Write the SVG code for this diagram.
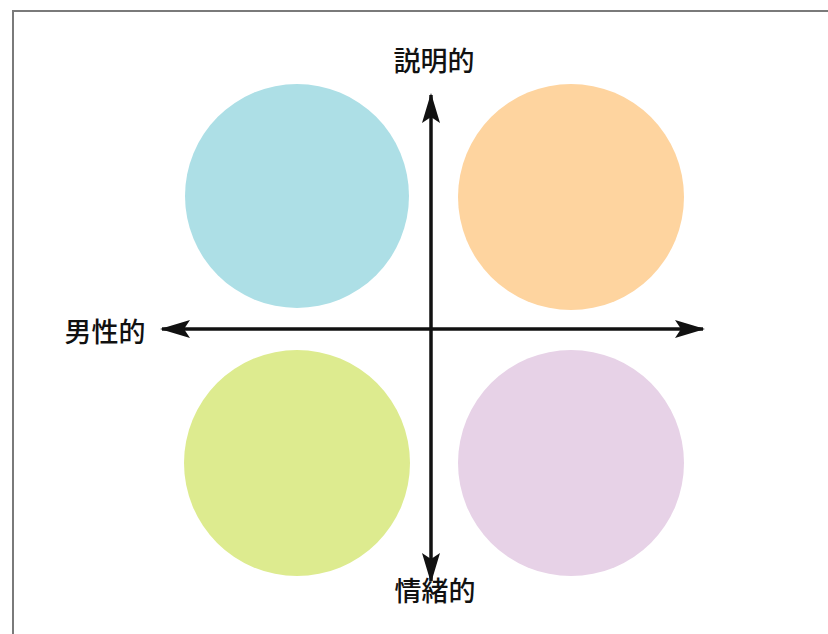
<svg xmlns="http://www.w3.org/2000/svg" width="828" height="634" viewBox="0 0 828 634">
  <style>
    .lbl { font-family: "Noto Sans CJK JP", "Noto Sans", sans-serif; font-size: 27px; font-weight: 500; fill: #111; text-anchor: middle; dominant-baseline: central; }
    .axis { stroke: #111; stroke-width: 3.5; fill: none; }
    .frame { stroke: #7a7a7a; stroke-width: 2; fill: none; }
  </style>
  <defs>
    <marker id="ah" viewBox="0 0 30 20" refX="28" refY="10" markerWidth="30" markerHeight="20" markerUnits="userSpaceOnUse" orient="auto">
      <path d="M0,1 L30,10 L0,19 L6,10 Z" fill="#111"/>
    </marker>
  </defs>
  <rect width="828" height="634" fill="#ffffff"/>
  <path class="frame" d="M13,640 L13,11 L830,11"/>
  <g id="circle-blue"><circle cx="297" cy="196" r="112" fill="#ADDFE6"/></g>
  <g id="circle-orange"><circle cx="571" cy="197" r="113" fill="#FED49F"/></g>
  <g id="circle-green"><circle cx="297" cy="463" r="113" fill="#DDEB8F"/></g>
  <g id="circle-purple"><circle cx="571" cy="463" r="113" fill="#E7D2E7"/></g>
  <g id="connectors">
    <line class="axis" x1="431" y1="329" x2="431" y2="95" marker-end="url(#ah)"/>
    <line class="axis" x1="431" y1="329" x2="431" y2="581" marker-end="url(#ah)"/>
    <line class="axis" x1="431" y1="329" x2="162" y2="329" marker-end="url(#ah)"/>
    <line class="axis" x1="431" y1="329" x2="703" y2="329" marker-end="url(#ah)"/>
  </g>
  <g id="label-top"><text class="lbl" x="434" y="59">説明的</text></g>
  <g id="label-left"><text class="lbl" x="105" y="330">男性的</text></g>
  <g id="label-bottom"><text class="lbl" x="435" y="589">情緒的</text></g>
</svg>
